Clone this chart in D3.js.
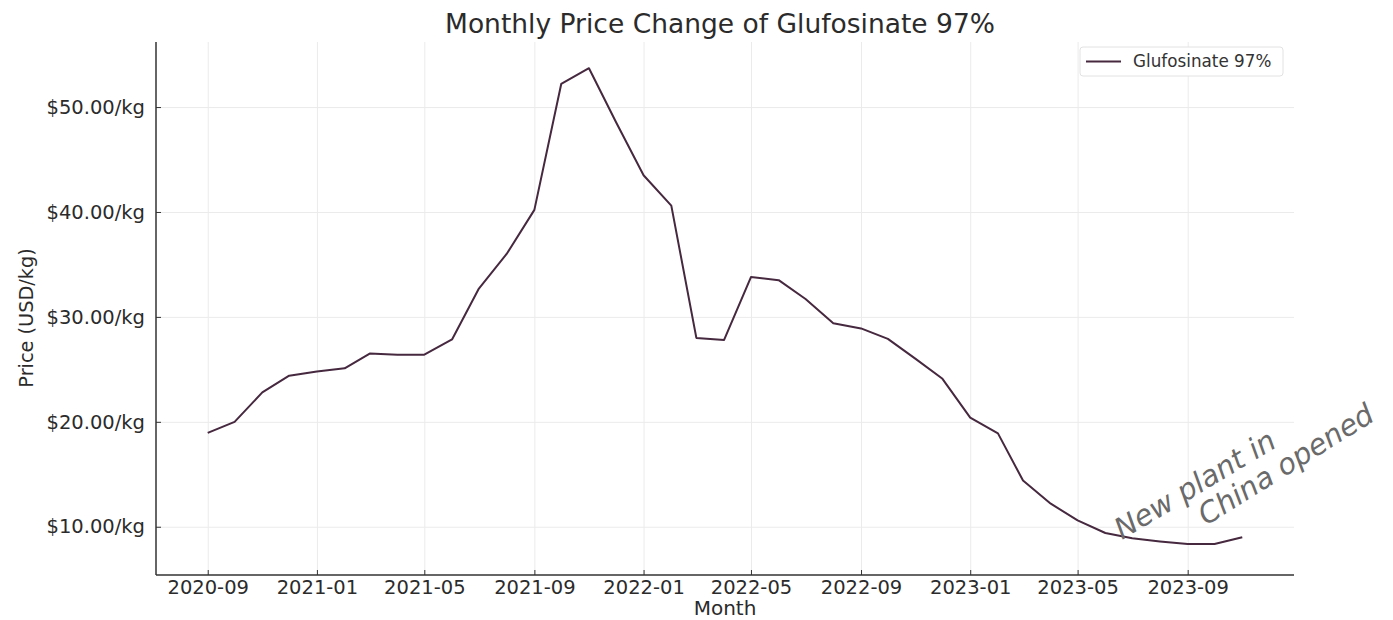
<!DOCTYPE html>
<html>
  <head>
    <title>Monthly Price Change of Glufosinate 97%</title>
    <meta http-equiv="Content-Type" content="text/html; charset=utf-8">
    <style type="text/css">
      body { margin: 0; background: #fff; }
      #main { width: 1393px; height: 620px; }
      text { font-family: "DejaVu Sans", sans-serif; }
      .grid line { stroke: #ebebeb; stroke-width: 1; }
      .grid path { display: none; }
      .axis path { display: none; }
      .axis line { stroke: #333; stroke-width: 1; }
      .axis text { fill: #2b2b2b; font-size: 19.5px; }
      path.line { fill: none; stroke-width: 2; stroke-linejoin: round; }
    </style>
  </head>
  <body>
    <div id="main"></div>

    <script src="https://d3js.org/d3.v7.min.js"></script>
    <script>
    // data
    var months = ["2020-09","2020-10","2020-11","2020-12","2021-01","2021-02","2021-03","2021-04",
                  "2021-05","2021-06","2021-07","2021-08","2021-09","2021-10","2021-11","2021-12",
                  "2022-01","2022-02","2022-03","2022-04","2022-05","2022-06","2022-07","2022-08",
                  "2022-09","2022-10","2022-11","2022-12","2023-01","2023-02","2023-03","2023-04",
                  "2023-05","2023-06","2023-07","2023-08","2023-09","2023-10","2023-11"];
    var prices = [18.95, 20.0, 22.8, 24.4, 24.8, 25.1, 26.5, 26.4,
                  26.4, 27.85, 32.7, 36.0, 40.2, 52.2, 53.7, 48.6,
                  43.5, 40.6, 28.0, 27.8, 33.8, 33.5, 31.7, 29.4,
                  28.9, 27.9, 26.0, 24.1, 20.4, 18.9, 14.4, 12.2,
                  10.6, 9.4, 8.9, 8.6, 8.35, 8.35, 9.0];
    var xTickLabels = ["2020-09","2021-01","2021-05","2021-09","2022-01","2022-05","2022-09","2023-01","2023-05","2023-09"];
    var yTickValues = [10, 20, 30, 40, 50];
    var seriesName = "Glufosinate 97%";
    var note = ["New plant in", "China opened"];

    var W = 1393, H = 620;
    var plotL = 156, plotR = 1294, plotT = 42, plotB = 575;
    var parse = d3.utcParse("%Y-%m");
    var fmt = d3.utcFormat("%Y-%m");
    var color = "#46283f";

    var data = months.map(function(m, i) { return {date: parse(m), price: prices[i]}; });

    // x domain padded 5% each side like matplotlib
    var ext = d3.extent(data, function(d) { return d.date; });
    var pad = (ext[1] - ext[0]) * 0.05;
    var x = d3.scaleUtc()
      .domain([new Date(+ext[0] - pad), new Date(+ext[1] + pad)])
      .range([plotL, plotR]);
    var y = d3.scaleLinear().domain([5.4, 56.2]).range([plotB, plotT]);

    var svg = d3.select("#main").append("svg")
      .attr("width", W)
      .attr("height", H);

    svg.append("rect").attr("width", W).attr("height", H).attr("fill", "#fff");

    var xTicks = xTickLabels.map(parse);

    // grid
    svg.append("g")
      .attr("class", "grid")
      .attr("transform", "translate(0," + plotB + ")")
      .call(d3.axisBottom(x).tickValues(xTicks).tickSize(-(plotB - plotT)).tickFormat(""));
    svg.append("g")
      .attr("class", "grid")
      .attr("transform", "translate(" + plotL + ",0)")
      .call(d3.axisLeft(y).tickValues(yTickValues).tickSize(-(plotR - plotL)).tickFormat(""));

    // the line
    var valueline = d3.line()
      .x(function(d) { return x(d.date); })
      .y(function(d) { return y(d.price); });
    svg.append("path")
      .attr("class", "line")
      .attr("stroke", color)
      .attr("d", valueline(data));

    // axes (ticks point inward)
    svg.append("g")
      .attr("class", "axis")
      .attr("transform", "translate(0," + plotB + ")")
      .call(d3.axisBottom(x).tickValues(xTicks).tickFormat(fmt).tickSizeInner(-5).tickSizeOuter(0).tickPadding(5));
    svg.append("g")
      .attr("class", "axis")
      .attr("transform", "translate(" + plotL + ",0)")
      .call(d3.axisLeft(y).tickValues(yTickValues)
        .tickFormat(function(d) { return "$" + d3.format(".2f")(d) + "/kg"; })
        .tickSizeInner(-5).tickSizeOuter(0).tickPadding(11));

    // spines: left and bottom only
    svg.append("line").attr("x1", plotL).attr("x2", plotL).attr("y1", plotT).attr("y2", plotB)
      .attr("stroke", "#333").attr("stroke-width", 1.5);
    svg.append("line").attr("x1", plotL).attr("x2", plotR).attr("y1", plotB).attr("y2", plotB)
      .attr("stroke", "#333").attr("stroke-width", 1.5);

    // title and labels
    svg.append("text")
      .attr("x", 720)
      .attr("y", 33)
      .attr("text-anchor", "middle")
      .style("font-size", "26.5px")
      .style("fill", "#2b2b2b")
      .text("Monthly Price Change of Glufosinate 97%");
    svg.append("text")
      .attr("x", 725)
      .attr("y", 615)
      .attr("text-anchor", "middle")
      .style("font-size", "20px")
      .style("fill", "#2b2b2b")
      .text("Month");
    svg.append("text")
      .attr("transform", "translate(33," + 318 + ") rotate(-90)")
      .attr("text-anchor", "middle")
      .style("font-size", "19.3px")
      .style("fill", "#2b2b2b")
      .text("Price (USD/kg)");

    // legend
    var lg = svg.append("g").attr("transform", "translate(1080,47)");
    lg.append("rect")
      .attr("width", 203).attr("height", 29).attr("rx", 3)
      .attr("fill", "#fff").attr("stroke", "#e2e2e2");
    lg.append("line")
      .attr("x1", 6).attr("x2", 41).attr("y1", 14.5).attr("y2", 14.5)
      .attr("stroke", color).attr("stroke-width", 2);
    lg.append("text")
      .attr("x", 53).attr("y", 20)
      .style("font-size", "16.8px")
      .style("fill", "#333")
      .text(seriesName);

    // handwritten note
    svg.append("text")
      .attr("transform", "translate(1122,540) rotate(-31)")
      .style("font-size", "29px")
      .style("font-style", "italic")
      .style("fill", "#6a6a6a")
      .text(note[0]);
    svg.append("text")
      .attr("transform", "translate(1206,526) rotate(-32)")
      .style("font-size", "29px")
      .style("font-style", "italic")
      .style("fill", "#6a6a6a")
      .text(note[1]);
    </script>
  </body>
</html>
